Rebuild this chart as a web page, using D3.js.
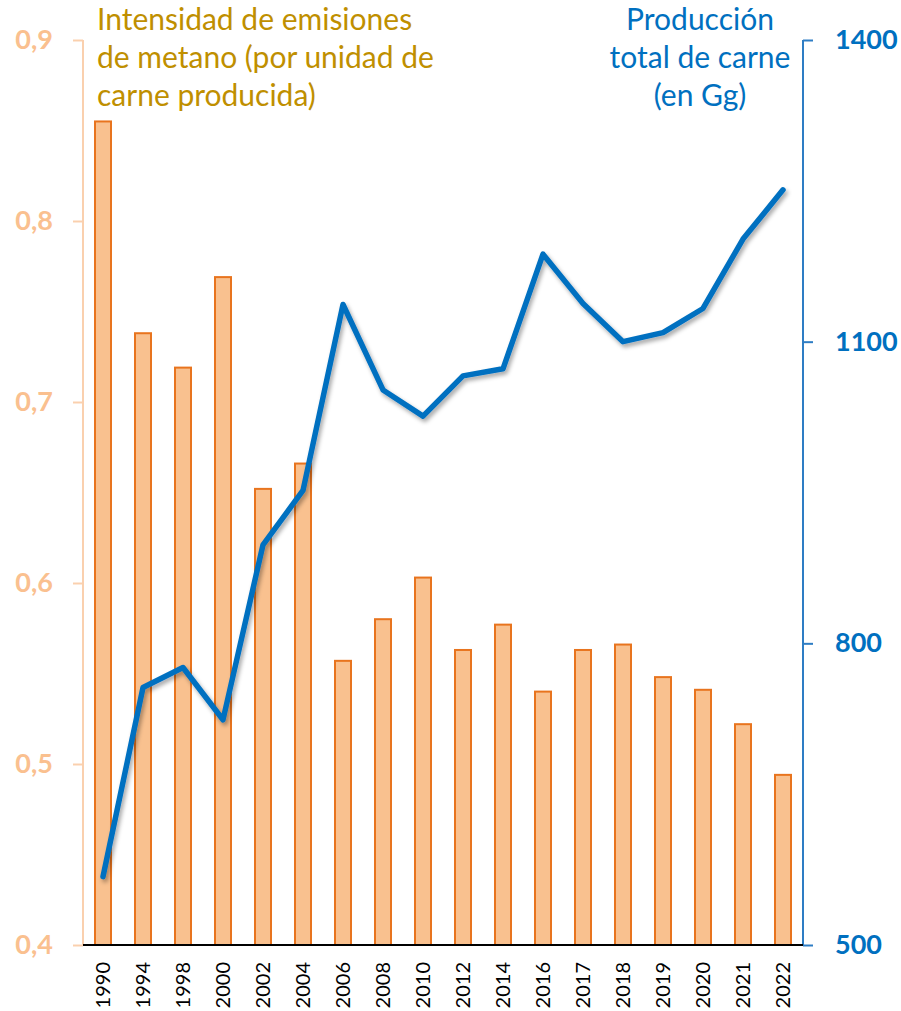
<!DOCTYPE html>
<html>
<head>
<meta charset="utf-8">
<script src="https://cdn.jsdelivr.net/npm/d3@7"></script>
<style>
  body { margin: 0; background: #fff; }
  svg { display: block; font-family: Lato, "Open Sans", sans-serif; }
</style>
</head>
<body>
<div id="chart"></div>
<script>
// data
var years = ["1990","1994","1998","2000","2002","2004","2006","2008","2010","2012","2014","2016","2017","2018","2019","2020","2021","2022"];
var intensity = [0.855, 0.738, 0.719, 0.769, 0.652, 0.666, 0.557, 0.580, 0.603, 0.563, 0.577, 0.540, 0.563, 0.566, 0.548, 0.541, 0.522, 0.494];
var production = [568, 756, 776, 724, 898, 952, 1137, 1052, 1026, 1066, 1073, 1187, 1138, 1100, 1109, 1133, 1202, 1251];
var leftTicks = [0.4, 0.5, 0.6, 0.7, 0.8, 0.9];
var rightTicks = [500, 800, 1100, 1400];

var W = 901, H = 1011;
var mLeft = 83, mRight = 803, mTop = 40, mBottom = 945;

var svg = d3.select("#chart").append("svg")
    .attr("width", W)
    .attr("height", H);

var defs = svg.append("defs");
var f = defs.append("filter").attr("id", "shadow")
    .attr("x", "-10%").attr("y", "-10%").attr("width", "120%").attr("height", "120%");
f.append("feDropShadow")
    .attr("dx", 2).attr("dy", 3).attr("stdDeviation", 2)
    .attr("flood-color", "#000").attr("flood-opacity", 0.35);

var x = d3.scaleBand().domain(years).range([mLeft, mRight]).paddingInner(0.6).paddingOuter(0.3);
var yL = d3.scaleLinear().domain([0.4, 0.9]).range([mBottom, mTop]);
var yR = d3.scaleLinear().domain([500, 1400]).range([mBottom, mTop]);

// bars
svg.append("g").selectAll("rect")
    .data(intensity)
    .enter()
    .append("rect")
    .attr("x", function(d, i) { return x(years[i]); })
    .attr("y", function(d) { return yL(d); })
    .attr("width", x.bandwidth())
    .attr("height", function(d) { return mBottom - yL(d); })
    .attr("fill", "#F9C18F")
    .attr("stroke", "#E8741E")
    .attr("stroke-width", 2);

// left axis
var axL = d3.axisLeft(yL).tickValues(leftTicks).tickSize(10).tickPadding(20)
    .tickFormat(function(d) { return d3.format(".1f")(d).replace(".", ","); });
var gL = svg.append("g").attr("transform", "translate(" + mLeft + ",0)").call(axL);
gL.select(".domain").attr("stroke", "#FAD0AE").attr("stroke-width", 2).attr("d", "M0," + mTop + "V" + mBottom);
gL.selectAll(".tick line").attr("stroke", "#FAD0AE").attr("stroke-width", 2);
gL.selectAll(".tick text")
    .attr("fill", "#FAC08F")
    .attr("font-size", 27)
    .attr("font-weight", "bold")
    .attr("font-family", "Lato, sans-serif");

// right axis
var axR = d3.axisRight(yR).tickValues(rightTicks).tickSize(10).tickPadding(22).tickFormat(d3.format("d"));
var gR = svg.append("g").attr("transform", "translate(" + mRight + ",0)").call(axR);
gR.select(".domain").attr("stroke", "#2E7DC4").attr("stroke-width", 2).attr("d", "M0," + mTop + "V" + mBottom);
gR.selectAll(".tick line").attr("stroke", "#2E7DC4").attr("stroke-width", 2);
gR.selectAll(".tick text")
    .attr("fill", "#0070C0")
    .attr("font-size", 27)
    .attr("font-weight", "bold")
    .attr("font-family", "Lato, sans-serif");

// baseline + x labels
var axB = d3.axisBottom(x).tickSize(0).tickPadding(0);
var gB = svg.append("g").attr("transform", "translate(0," + mBottom + ")").call(axB);
gB.select(".domain").attr("stroke", "#000").attr("stroke-width", 2).attr("d", "M" + mLeft + ",0H" + mRight);
gB.selectAll(".tick text")
    .attr("transform", "rotate(-90)")
    .attr("x", -17)
    .attr("y", 0)
    .attr("dy", "0.35em")
    .attr("text-anchor", "end")
    .attr("fill", "#000")
    .attr("font-size", 20)
    .attr("font-family", "Lato, sans-serif");

// production line
var line = d3.line()
    .x(function(d, i) { return x(years[i]) + x.bandwidth() / 2; })
    .y(function(d) { return yR(d); });
svg.append("path")
    .datum(production)
    .attr("d", line)
    .attr("fill", "none")
    .attr("stroke", "#0070C0")
    .attr("stroke-width", 5.5)
    .attr("stroke-linejoin", "round")
    .attr("stroke-linecap", "round")
    .attr("filter", "url(#shadow)");

// titles
var t1 = svg.append("text")
    .attr("x", 97).attr("y", 30)
    .attr("fill", "#BF8F00")
    .attr("font-size", 30);
["Intensidad de emisiones", "de metano (por unidad de", "carne producida)"].forEach(function(s, i) {
  t1.append("tspan").attr("x", 97).attr("dy", i == 0 ? 0 : 38).text(s);
});

var t2 = svg.append("text")
    .attr("x", 700).attr("y", 30)
    .attr("text-anchor", "middle")
    .attr("fill", "#0070C0")
    .attr("font-size", 30);
["Producción", "total de carne", "(en Gg)"].forEach(function(s, i) {
  t2.append("tspan").attr("x", 700).attr("dy", i == 0 ? 0 : 38).text(s);
});
</script>
</body>
</html>
